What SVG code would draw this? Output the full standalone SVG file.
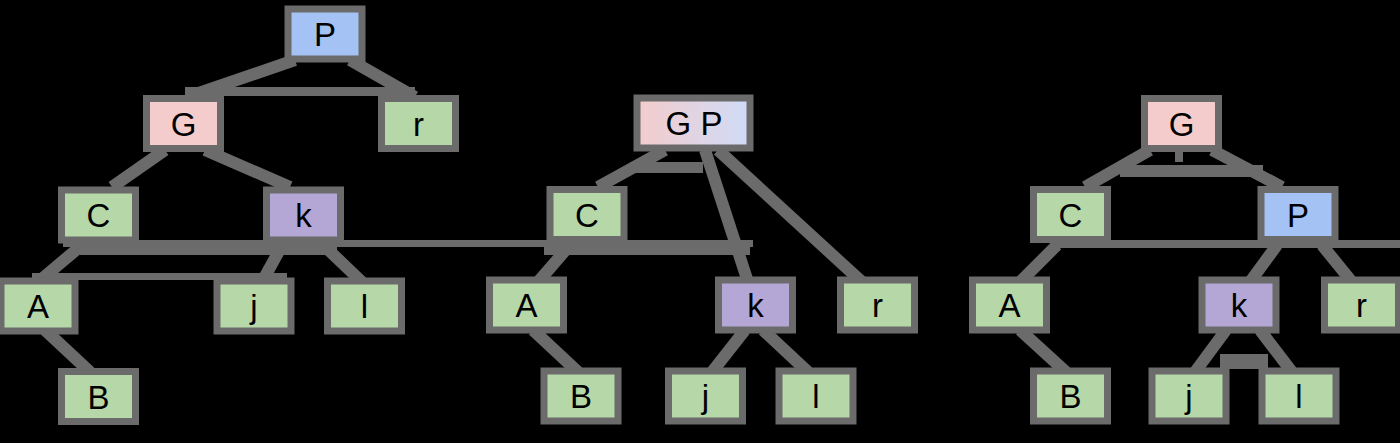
<svg xmlns="http://www.w3.org/2000/svg" width="1400" height="443" viewBox="0 0 1400 443">
<defs>
<linearGradient id="gp" x1="0" y1="0" x2="1" y2="0">
<stop offset="0" stop-color="#f4cccc"/>
<stop offset="1" stop-color="#cfdcf8"/>
</linearGradient>
<style>
.n rect{stroke:#6b6b6b;stroke-width:7}
.n text{font-family:"Liberation Sans",Arial,sans-serif;font-size:33px;fill:#000;text-anchor:middle}
.blue{fill:#a4c2f4}.pink{fill:#f4cccc}.green{fill:#b6d7a8}.purple{fill:#b4a7d6}
#edges line{stroke:#6b6b6b;stroke-width:12}
#edges rect{fill:#6b6b6b}
</style>
</defs>
<rect width="1400" height="443" fill="#000"/>
<g id="edges">
<!-- tree 1 -->
<line x1="295" y1="60" x2="190" y2="96"/>
<line x1="350" y1="60" x2="415" y2="97"/>
<rect x="185" y="87" width="230" height="9"/>
<line x1="165" y1="150" x2="112" y2="187"/>
<line x1="205" y1="150" x2="290" y2="187"/>
<rect x="63" y="240" width="690" height="7"/>
<rect x="80" y="240" width="257" height="15"/>
<rect x="32" y="273" width="255" height="7"/>
<line x1="88" y1="240" x2="38" y2="282"/>
<line x1="285" y1="240" x2="262" y2="282"/>
<line x1="318" y1="240" x2="362" y2="282"/>
<line x1="45" y1="330" x2="90" y2="372"/>
<!-- tree 2 -->
<line x1="665" y1="150" x2="598" y2="187"/>
<rect x="630" y="162" width="73" height="11"/>
<line x1="705" y1="150" x2="748" y2="282"/>
<line x1="718" y1="150" x2="862" y2="282"/>
<rect x="544" y="240" width="206" height="15"/>
<line x1="570" y1="245" x2="538" y2="282"/>
<line x1="533" y1="330" x2="578" y2="372"/>
<line x1="745" y1="330" x2="712" y2="372"/>
<line x1="763" y1="330" x2="808" y2="372"/>
<!-- tree 3 -->
<line x1="1150" y1="150" x2="1085" y2="187"/>
<line x1="1212" y1="150" x2="1282" y2="187"/>
<rect x="1120" y="165" width="143" height="12"/>
<rect x="1175" y="148" width="8" height="14"/>
<rect x="1050" y="240" width="350" height="8"/>
<line x1="1057" y1="245" x2="1020" y2="282"/>
<line x1="1020" y1="330" x2="1066" y2="372"/>
<line x1="1277" y1="245" x2="1250" y2="282"/>
<line x1="1322" y1="245" x2="1352" y2="282"/>
<line x1="1226" y1="330" x2="1195" y2="372"/>
<line x1="1260" y1="330" x2="1292" y2="372"/>
<rect x="1220" y="354" width="48" height="15"/>
</g>
<!-- tree 1 nodes -->
<g id="t1-P" class="n"><rect class="blue" x="288" y="9" width="74" height="50"/><text x="325" y="46">P</text></g>
<g id="t1-G" class="n"><rect class="pink" x="146.5" y="98.5" width="74" height="50"/><text x="183.5" y="135.5">G</text></g>
<g id="t1-r" class="n"><rect class="green" x="381.5" y="98.5" width="74" height="50"/><text x="418.5" y="135.5">r</text></g>
<g id="t1-C" class="n"><rect class="green" x="61.5" y="190" width="74" height="50"/><text x="98.5" y="227">C</text></g>
<g id="t1-k" class="n"><rect class="purple" x="266.5" y="190" width="74" height="50"/><text x="303.5" y="227">k</text></g>
<g id="t1-A" class="n"><rect class="green" x="1" y="281" width="74" height="50"/><text x="38" y="318">A</text></g>
<g id="t1-j" class="n"><rect class="green" x="217" y="281" width="74" height="50"/><text x="254" y="318">j</text></g>
<g id="t1-l" class="n"><rect class="green" x="327.5" y="281" width="74" height="50"/><text x="364.5" y="318">l</text></g>
<g id="t1-B" class="n"><rect class="green" x="61.5" y="371.5" width="74" height="50"/><text x="98.5" y="408.5">B</text></g>
<!-- tree 2 nodes -->
<g id="t2-GP" class="n"><rect fill="url(#gp)" x="637" y="98" width="113" height="50"/><text x="694" y="135">G P</text></g>
<g id="t2-C" class="n"><rect class="green" x="550" y="189.5" width="74" height="50"/><text x="587" y="226.5">C</text></g>
<g id="t2-A" class="n"><rect class="green" x="489.5" y="280" width="74" height="50"/><text x="526.5" y="317">A</text></g>
<g id="t2-k" class="n"><rect class="purple" x="718.5" y="280" width="74" height="50"/><text x="755.5" y="317">k</text></g>
<g id="t2-r" class="n"><rect class="green" x="840.5" y="280" width="74" height="50"/><text x="877.5" y="317">r</text></g>
<g id="t2-B" class="n"><rect class="green" x="544" y="371" width="74" height="50"/><text x="581" y="408">B</text></g>
<g id="t2-j" class="n"><rect class="green" x="668.5" y="371" width="74" height="50"/><text x="705.5" y="408">j</text></g>
<g id="t2-l" class="n"><rect class="green" x="779" y="371" width="74" height="50"/><text x="816" y="408">l</text></g>
<!-- tree 3 nodes -->
<g id="t3-G" class="n"><rect class="pink" x="1144.5" y="98.5" width="74" height="50"/><text x="1181.5" y="135.5">G</text></g>
<g id="t3-C" class="n"><rect class="green" x="1033.5" y="189.5" width="74" height="50"/><text x="1070.5" y="226.5">C</text></g>
<g id="t3-P" class="n"><rect class="blue" x="1261" y="189.5" width="74" height="50"/><text x="1298" y="226.5">P</text></g>
<g id="t3-A" class="n"><rect class="green" x="972.5" y="280" width="74" height="50"/><text x="1009.5" y="317">A</text></g>
<g id="t3-k" class="n"><rect class="purple" x="1202" y="280" width="74" height="50"/><text x="1239" y="317">k</text></g>
<g id="t3-r" class="n"><rect class="green" x="1324.5" y="280" width="74" height="50"/><text x="1361.5" y="317">r</text></g>
<g id="t3-B" class="n"><rect class="green" x="1033.5" y="371" width="74" height="50"/><text x="1070.5" y="408">B</text></g>
<g id="t3-j" class="n"><rect class="green" x="1152" y="371" width="74" height="50"/><text x="1189" y="408">j</text></g>
<g id="t3-l" class="n"><rect class="green" x="1262" y="371" width="74" height="50"/><text x="1299" y="408">l</text></g>
</svg>
